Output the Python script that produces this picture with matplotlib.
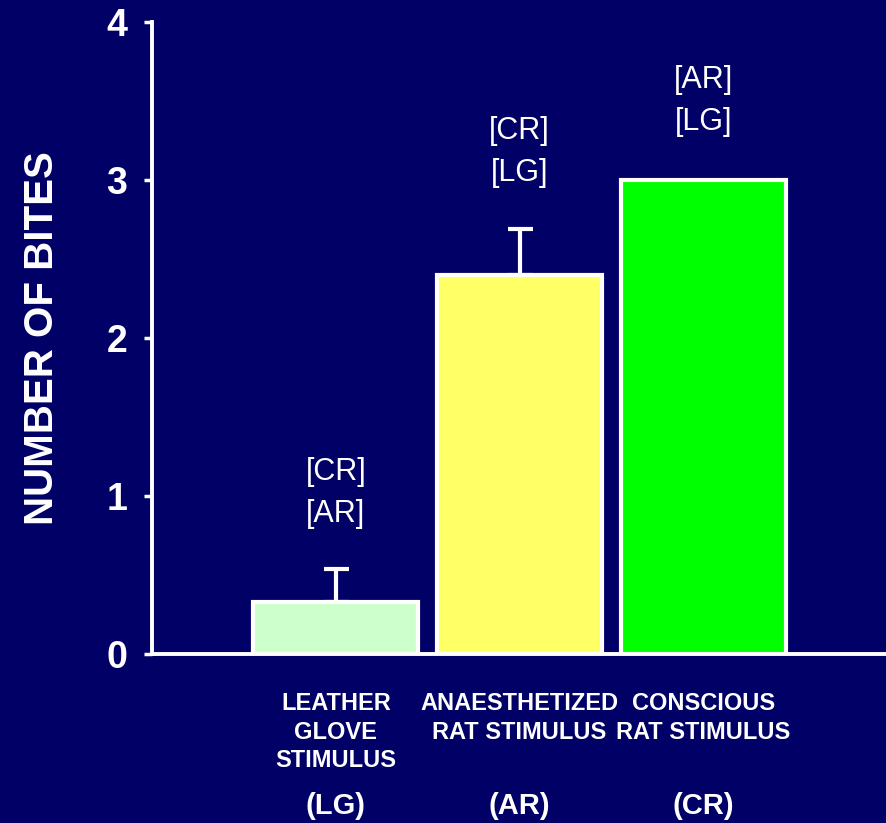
import numpy as np
import matplotlib
matplotlib.use("Agg")
import matplotlib.pyplot as plt

plt.rcParams['font.family'] = ['Liberation Sans', 'DejaVu Sans']

# data
categories = ["LEATHER\nGLOVE\nSTIMULUS", "ANAESTHETIZED\nRAT STIMULUS", "CONSCIOUS\nRAT STIMULUS"]
codes = ["(LG)", "(AR)", "(CR)"]
bites = [0.33, 2.40, 3.00]
sem = [0.21, 0.29, 0.0]
sig_labels = ["[CR]\n[AR]", "[CR]\n[LG]", "[AR]\n[LG]"]
sig_heights = [1.02, 3.18, 3.50]
bar_colors = ["#CCFFCC", "#FFFF66", "#00FF00"]

bg = "#000066"

fig = plt.figure(figsize=(8.87, 8.23), dpi=100, facecolor=bg)
ax = fig.add_axes([0.1714, 0.205, 0.8286, 0.768])
ax.set_facecolor(bg)

x = np.arange(len(bites))
ax.bar(x, bites, width=0.9, color=bar_colors, edgecolor="white", linewidth=3, zorder=2)
ax.errorbar(x[:2], bites[:2], yerr=[[0, 0], sem[:2]], fmt="none", ecolor="white",
            elinewidth=3, capsize=9, capthick=3, zorder=1)

for xi, lab, h in zip(x, sig_labels, sig_heights):
    ax.text(xi, h, lab, ha="center", va="center", color="white", fontsize=22,
            linespacing=1.5)

ax.set_xlim(-1, 3)
ax.set_ylim(0, 4)
ax.set_yticks([0, 1, 2, 3, 4])
ax.set_yticklabels(["0", "1", "2", "3", "4"], fontsize=27, fontweight="bold", color="white")
ax.tick_params(axis="y", direction="out", length=6, width=2.5, color="white", pad=12)

ax.set_xticks(x)
ax.set_xticklabels(categories, fontsize=17, fontweight="bold", color="white", linespacing=1.32)
ax.tick_params(axis="x", length=0, pad=27)
# nudge labels a little, as in the original slide
for lbl, dx in zip(ax.get_xticklabels(), [-0.03, -0.02, 0.04]):
    lbl.set_x(lbl.get_position()[0] + dx)

for xi, c in zip(x, codes):
    ax.text(xi, -0.96, c, ha="center", va="center", fontsize=21, fontweight="bold",
            color="white", clip_on=False)

ax.set_ylabel("NUMBER OF BITES", fontsize=29, fontweight="bold", color="white")
ax.yaxis.set_label_coords(-0.124, 0.5)

for s in ["top", "right"]:
    ax.spines[s].set_visible(False)
for s in ["left", "bottom"]:
    ax.spines[s].set_color("white")
    ax.spines[s].set_linewidth(2.8)

fig.savefig("out.png", dpi=100, facecolor=bg)
